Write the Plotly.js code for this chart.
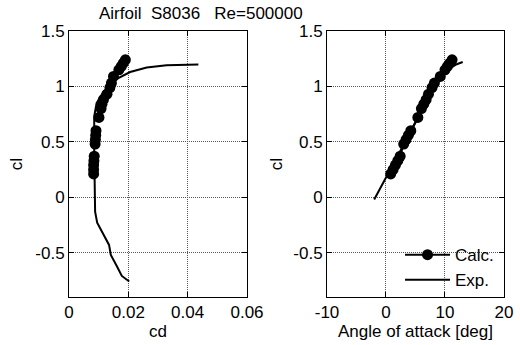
<!DOCTYPE html>
<html>
<head>
<meta charset="utf-8">
<script src="https://cdn.plot.ly/plotly-3.0.1.min.js"></script>
<style>html,body{margin:0;padding:0;background:#fff;}#chart{width:520px;height:345px;}</style>
</head>
<body>
<div id="chart"></div>
<script>
// Calculated polar (markers)
var calcAlpha = [0.8, 1.2, 1.6, 2.0, 2.4, 3.0, 3.4, 3.8, 4.2, 5.4, 6.0, 6.4, 6.8, 7.2, 7.8, 8.2, 9.2, 10.0, 10.4, 10.8, 11.2];
var calcCl    = [0.21, 0.25, 0.29, 0.33, 0.37, 0.48, 0.52, 0.56, 0.60, 0.72, 0.80, 0.84, 0.88, 0.93, 0.99, 1.03, 1.09, 1.15, 1.18, 1.21, 1.24];
var calcCd    = [0.0083, 0.0083, 0.0083, 0.0084, 0.0085, 0.0088, 0.0089, 0.0090, 0.0091, 0.0101, 0.0108, 0.0111, 0.0116, 0.0128, 0.0138, 0.0143, 0.0150, 0.0168, 0.0176, 0.0183, 0.0190];

// Experimental drag polar (cl vs cd)
var expPolarCd = [0.0203, 0.0178, 0.0161, 0.0141, 0.0135, 0.0116, 0.0095, 0.0088, 0.0087, 0.0086, 0.0085, 0.0085, 0.0085, 0.0085, 0.0093, 0.0116, 0.0155, 0.0206, 0.0262, 0.0329, 0.0436];
var expPolarCl = [-0.76, -0.71, -0.62, -0.52, -0.43, -0.34, -0.23, -0.13, 0.0, 0.07, 0.2, 0.4, 0.6, 0.73, 0.85, 0.95, 1.06, 1.13, 1.17, 1.19, 1.197];

// Experimental lift curve (cl vs alpha)
var expAlpha = [-2.0, -1.0, 0, 1, 2, 3, 4, 5, 6, 7, 8, 9, 10, 11, 12, 13];
var expCl    = [-0.02, 0.08, 0.18, 0.28, 0.38, 0.48, 0.58, 0.68, 0.78, 0.88, 0.97, 1.05, 1.12, 1.17, 1.20, 1.22];

var yTickVals = [-0.5, 0, 0.5, 1, 1.5];
var yTickText = ['-0.5', '0', '0.5', '1', '1.5'];
var x1TickVals = [0, 0.02, 0.04, 0.06];
var x1TickText = ['0', '0.02', '0.04', '0.06'];
var x2TickVals = [-10, 0, 10, 20];
var x2TickText = ['-10', '0', '10', '20'];

var FONT = 'Liberation Sans, Arial, sans-serif';
var FS = 17;

var traces = [
  {x: calcCd, y: calcCl, xaxis: 'x', yaxis: 'y', mode: 'markers', type: 'scatter',
   marker: {color: '#000', size: 11}, showlegend: false},
  {x: expPolarCd, y: expPolarCl, xaxis: 'x', yaxis: 'y', mode: 'lines', type: 'scatter',
   line: {color: '#000', width: 2}, showlegend: false},
  {x: calcAlpha, y: calcCl, xaxis: 'x2', yaxis: 'y2', mode: 'lines+markers', type: 'scatter', name: 'Calc.',
   marker: {color: '#000', size: 11}, line: {color: '#000', width: 2}},
  {x: expAlpha, y: expCl, xaxis: 'x2', yaxis: 'y2', mode: 'lines', type: 'scatter', name: 'Exp.',
   line: {color: '#000', width: 2}}
];

function axisCommon() {
  return {
    showline: true, linecolor: '#000', linewidth: 1, mirror: 'ticks',
    ticks: 'inside', ticklen: 5, tickcolor: '#000',
    showgrid: true, gridcolor: '#555', griddash: '1px,1px', gridwidth: 1,
    zeroline: false, tickfont: {family: FONT, size: FS, color: '#000'}
  };
}

var xa1 = Object.assign(axisCommon(), {domain: [0, 0.4092], range: [0, 0.06], tickvals: x1TickVals, ticktext: x1TickText,
  title: {text: 'cd', font: {family: FONT, size: FS, color: '#000'}, standoff: 3}, anchor: 'y'});
var ya1 = Object.assign(axisCommon(), {range: [-0.9, 1.5], tickvals: yTickVals, ticktext: yTickText,
  title: {text: 'cl', font: {family: FONT, size: FS, color: '#000'}, standoff: 8}, anchor: 'x'});
var xa2 = Object.assign(axisCommon(), {domain: [0.5931, 1], range: [-10, 20], tickvals: x2TickVals, ticktext: x2TickText,
  title: {text: 'Angle of attack [deg]', font: {family: FONT, size: FS, color: '#000'}, standoff: 3}, anchor: 'y2'});
var ya2 = Object.assign(axisCommon(), {range: [-0.9, 1.5], tickvals: yTickVals, ticktext: yTickText,
  title: {text: 'cl', font: {family: FONT, size: FS, color: '#000'}, standoff: 6}, anchor: 'x2'});

var layout = {
  width: 520, height: 345,
  margin: {l: 69, r: 16, t: 31, b: 48},
  paper_bgcolor: '#fff', plot_bgcolor: '#fff',
  font: {family: FONT, size: FS, color: '#000'},
  xaxis: xa1, yaxis: ya1, xaxis2: xa2, yaxis2: ya2,
  showlegend: true,
  legend: {x: 0.761, y: 0.225, xanchor: 'left', yanchor: 'top', bgcolor: 'rgba(0,0,0,0)', borderwidth: 0,
    font: {family: FONT, size: FS, color: '#000'}, itemwidth: 45, tracegroupgap: 0},
  annotations: [{
    text: 'Airfoil\u00a0\u00a0S8036\u00a0\u00a0\u00a0Re=500000', xref: 'paper', yref: 'paper',
    x: 0.0644, y: 1.0658, xanchor: 'left', yanchor: 'middle', showarrow: false,
    font: {family: FONT, size: FS, color: '#000'}
  }]
};

Plotly.newPlot('chart', traces, layout, {displayModeBar: false, staticPlot: true});
</script>
</body>
</html>
